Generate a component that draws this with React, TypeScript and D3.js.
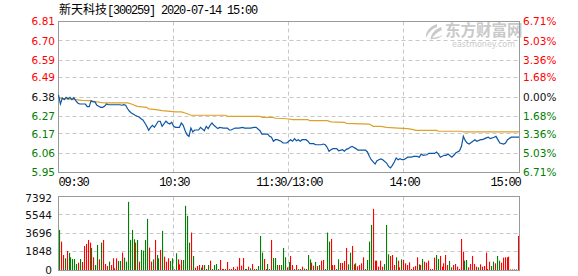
import React from 'react';
import * as d3 from 'd3';

const stockName = '新天科技';
const stockCode = '[300259]';
const stamp = ' 2020-07-14 15:00';

const priceTicks = [6.81, 6.70, 6.59, 6.49, 6.38, 6.27, 6.17, 6.06, 5.95];
const priceTickLabels = ['6.81', '6.70', '6.59', '6.49', '6.38', '6.27', '6.17', '6.06', '5.95'];
const pctTickLabels = ['6.71%', '5.03%', '3.36%', '1.68%', '0.00%', '1.68%', '3.36%', '5.03%', '6.71%'];
const volTicks = [7392, 5544, 3696, 1848, 0];
const timeTickMinutes = [0, 60, 120, 180, 240];
const timeTickLabels = ['09:30', '10:30', '11:30/13:00', '14:00', '15:00'];

// minute index (0..240) and price of the intraday line
const priceMinutes = [0,1,2,3,4,5,6,7,8,9,10,11,14,15,16,17,18,19,20,21,22,23,24,25,26,32,33,34,35,36,37,38,40,41,42,43,44,45,46,47,48,49,50,52,53,54,56,57,58,59,60,61,63,64,65,66,67,68,69,70,71,73,74,76,77,78,79,80,81,83,84,86,88,89,90,92,94,96,97,100,102,103,105,106,109,110,111,112,113,114,116,117,119,120,121,122,123,124,125,126,127,129,130,131,133,134,137,138,139,140,141,142,143,145,146,148,149,150,151,152,153,155,156,160,161,162,163,164,165,166,167,168,169,171,172,173,174,175,176,177,178,179,180,182,184,185,187,188,189,190,192,193,196,197,198,199,201,202,203,205,206,207,209,210,211,212,213,214,216,217,218,220,221,223,224,225,227,228,229,230,232,233,234,236,239,240];
const priceValues = [6.390,6.340,6.374,6.365,6.378,6.369,6.378,6.365,6.376,6.359,6.346,6.340,6.340,6.325,6.325,6.359,6.352,6.352,6.333,6.327,6.321,6.321,6.327,6.340,6.336,6.336,6.333,6.336,6.333,6.313,6.299,6.289,6.276,6.270,6.266,6.256,6.249,6.232,6.213,6.190,6.207,6.219,6.207,6.242,6.242,6.213,6.242,6.232,6.226,6.236,6.213,6.207,6.207,6.232,6.219,6.188,6.165,6.156,6.203,6.181,6.192,6.192,6.207,6.188,6.213,6.200,6.219,6.232,6.219,6.200,6.207,6.203,6.203,6.192,6.192,6.203,6.203,6.207,6.203,6.203,6.207,6.207,6.188,6.169,6.169,6.156,6.151,6.128,6.137,6.137,6.128,6.118,6.118,6.128,6.137,6.128,6.143,6.131,6.137,6.128,6.137,6.137,6.128,6.114,6.114,6.108,6.108,6.112,6.108,6.094,6.071,6.080,6.086,6.086,6.074,6.080,6.071,6.082,6.086,6.094,6.099,6.086,6.078,6.078,6.067,6.042,6.023,6.010,5.998,6.017,6.023,6.027,6.023,6.004,5.985,5.976,5.991,6.010,6.033,6.023,6.029,6.023,6.023,6.037,6.037,6.042,6.042,6.037,6.055,6.048,6.051,6.059,6.059,6.067,6.055,6.037,6.048,6.048,6.055,6.037,6.048,6.061,6.074,6.099,6.156,6.131,6.118,6.112,6.128,6.137,6.128,6.137,6.137,6.147,6.151,6.143,6.151,6.156,6.137,6.118,6.112,6.118,6.137,6.151,6.151,6.151];

// average price line
const avgMinutes = [0,9,12,16,20,24,36,38,41,46,47,51,54,61,64,66,69,87,88,105,106,112,113,119,122,130,131,140,142,149,150,162,164,168,171,177,182,185,186,197,198,210,211,240];
const avgValues = [6.374,6.365,6.361,6.359,6.352,6.346,6.346,6.340,6.327,6.321,6.312,6.308,6.302,6.295,6.295,6.289,6.276,6.276,6.270,6.270,6.264,6.264,6.259,6.256,6.251,6.251,6.245,6.245,6.238,6.236,6.230,6.226,6.213,6.213,6.207,6.203,6.200,6.194,6.190,6.190,6.185,6.185,6.181,6.181];

// per-minute volume (241 minutes) and direction (R = up, G = down)
const volumes = [
4032,2856,1512,1176,1915,1714,1277,1109,1109,605,739,1109,806,2419,2621,3024,2755,2218,1277,504,
2520,1075,2755,3024,605,403,840,504,1176,168,1176,907,907,1747,1243,840,6854,3024,4032,3091,
2755,3024,840,2016,1949,3024,5141,2251,840,1075,3024,1512,1176,2016,3931,1344,840,1176,907,1176,
67,1680,1075,571,1008,1008,6451,5443,2755,3763,1411,235,403,504,235,504,504,101,504,941,
101,504,605,101,1008,101,101,101,806,101,101,302,101,336,1210,437,1210,101,101,336,
168,605,101,101,403,3427,1747,1109,101,605,101,3024,1210,1210,504,504,504,2218,1277,269,
806,1411,504,101,504,101,101,336,134,101,1512,1075,739,437,806,403,504,941,1008,101,
3763,2856,3125,504,504,101,1075,706,706,907,2218,571,1747,2419,571,672,370,504,672,1277,
101,1008,2856,4536,6149,941,941,336,941,336,600,4536,1579,1411,1512,504,1277,941,269,1075,
1008,672,504,773,101,300,403,1277,571,504,1109,840,739,941,101,101,1243,1512,1109,1411,
336,672,1512,504,907,269,504,605,336,101,3125,1848,941,1008,269,605,1411,605,336,269,
571,336,403,1747,101,840,403,840,672,1411,941,739,1243,1277,1277,1344,60,60,60,60,
3427];
const volDirs =
'GRRGRGGGGGRGRRRRRGRG' +
'GRGRRRGRRRRGGRGGGGGG' +
'RGRGGGGRRGRGGRGRRRGG' +
'RGRRRGGGGRGRRRGRGRGR' +
'GGGRRRRGRRRRRRRRRGGR' +
'GRRGGGGRRGGRGGGRGGGR' +
'GRRGRGRRGRGGRRGRGRRG' +
'GGRRRGGRRRRGGRRGRRRR' +
'GGGGRRRRRRGGGRRRGRRG' +
'RRRRRRRRGRGRRRRRRGGR' +
'RRRRGGRRRRRRGGRRRRRG' +
'RRRRRRGGRGGRRRRRGRRG' +
'R';

const W = 578;
const H = 276;
const L = 58.5;
const R = 519.5;
const PT = 21.5;
const PB = 172.5;
const VT = 196.5;
const VB = 270.5;

const RED = '#ff0000';
const GREEN = '#008000';
const GRID = '#c8c8c8';
const BORDER = '#9a9a9a';
const NUM_FONT = "'DejaVu Sans', Verdana, sans-serif";
const MONO = "'Liberation Mono', 'DejaVu Sans Mono', monospace";
const CJK = "'Noto Sans CJK SC', sans-serif";

export default function App() {
  const x = d3.scaleLinear().domain([0, 240]).range([L, R - 0.5]);
  const yP = d3.scaleLinear().domain([5.95, 6.81]).range([PB, PT]);
  const xb = d3.scaleBand<number>().domain(d3.range(241)).range([L, R]);
  const yV = d3.scaleLinear().domain([0, 7392]).range([VB - 0.5, VT]);

  const line = d3.line<[number, number]>().x(d => x(d[0])).y(d => yP(d[1]));
  const pricePath = line(priceMinutes.map((m, i) => [m, priceValues[i]] as [number, number])) || '';
  const avgPath = line(avgMinutes.map((m, i) => [m, avgValues[i]] as [number, number])) || '';

  const crisp = (v: number) => Math.round(v - 0.5) + 0.5;
  const dash = '4,3';
  const labelColor = (i: number) => (i < 4 ? RED : i === 4 ? '#111' : GREEN);

  return (
    <svg width={W} height={H} style={{ position: 'absolute', left: 0, top: 0, background: '#fff' }}>
      <rect x={0} y={0} width={W} height={H} fill="#fff" />
      {/* title */}
      <text x={59} y={14} fontSize={12} fill="#000">
        <tspan fontFamily={CJK}>{stockName}</tspan>
        <tspan fontFamily={MONO} letterSpacing={-1.2}>{stockCode + stamp}</tspan>
      </text>

      {/* watermark */}
      <g fill="#c9c9c9">
        <path d="M437,24 C430,26 425,32 426,38 C428,33 432,29 437,27 Z" />
        <path d="M441,27 C434,30 430,35 431,40 C434,35 437,32 442,30 Z" />
        <path d="M429,38 C433,40 439,39 443,35 C439,37 434,38 429,38 Z" />
        <text x={445} y={36} fontFamily={CJK} fontWeight={700} fontSize={15.5}>东方财富网</text>
        <text x={452} y={47} fontFamily="'DejaVu Sans', sans-serif" fontSize={8}>eastmoney.com</text>
      </g>

      {/* price grid */}
      {priceTicks.slice(1, -1).map((v, i) => (
        <line key={'pg' + i} x1={L} x2={R} y1={crisp(yP(v))} y2={crisp(yP(v))} stroke={GRID} strokeDasharray={dash} />
      ))}
      {timeTickMinutes.slice(1, -1).map((m, i) => (
        <line key={'pv' + i} x1={crisp(x(m))} x2={crisp(x(m))} y1={PT} y2={PB} stroke={GRID} strokeDasharray={dash} />
      ))}
      <rect x={L} y={PT} width={R - L} height={PB - PT} fill="none" stroke={BORDER} />

      {/* lines */}
      <path d={avgPath} fill="none" stroke="#dca22a" strokeWidth={1.2} />
      <path d={pricePath} fill="none" stroke="#0d56a6" strokeWidth={1.2} />

      {/* price labels */}
      {priceTicks.map((v, i) => (
        <text key={'pl' + i} x={55} y={yP(v)} dy="0.36em" textAnchor="end" fontFamily={NUM_FONT} fontSize={10.5} fill={labelColor(i)}>
          {priceTickLabels[i]}
        </text>
      ))}
      {priceTicks.map((v, i) => (
        <text key={'pr' + i} x={523} y={yP(v)} dy="0.36em" textAnchor="start" fontFamily={NUM_FONT} fontSize={10.5} fill={labelColor(i)}>
          {pctTickLabels[i]}
        </text>
      ))}

      {/* time labels */}
      {timeTickMinutes.map((m, i) => (
        <text key={'tl' + i} x={i === 0 ? L : i === 4 ? R + 1 : x(m) + 0.6} y={186} fontFamily={MONO} fontSize={12} letterSpacing={-1.2}
          textAnchor={i === 0 ? 'start' : i === 4 ? 'end' : 'middle'} fill="#000">
          {timeTickLabels[i]}
        </text>
      ))}

      {/* volume grid */}
      {volTicks.slice(1, -1).map((v, i) => (
        <line key={'vg' + i} x1={L} x2={R} y1={crisp(yV(v))} y2={crisp(yV(v))} stroke={GRID} strokeDasharray={dash} />
      ))}
      {timeTickMinutes.slice(1, -1).map((m, i) => (
        <line key={'vv' + i} x1={crisp(x(m))} x2={crisp(x(m))} y1={VT} y2={VB} stroke={GRID} strokeDasharray={dash} />
      ))}

      {/* volume bars */}
      {volumes.map((v, i) => {
        const cx = (xb(i) as number) + xb.bandwidth() / 2;
        const top = yV(v);
        return (
          <rect key={'b' + i} x={Math.floor(cx)} y={top} width={1.1} height={Math.max(0, VB - 0.5 - top)}
            fill={volDirs[i] === 'R' ? RED : GREEN} />
        );
      })}
      <rect x={L} y={VT} width={R - L} height={VB - VT} fill="none" stroke={BORDER} />

      {/* volume labels */}
      {volTicks.map((v, i) => (
        <text key={'vl' + i} x={52} y={i === 0 ? yV(v) + 2 : yV(v)} dy="0.36em" textAnchor="end" fontFamily={NUM_FONT} fontSize={10.5} fill="#111">
          {v}
        </text>
      ))}
    </svg>
  );
}
